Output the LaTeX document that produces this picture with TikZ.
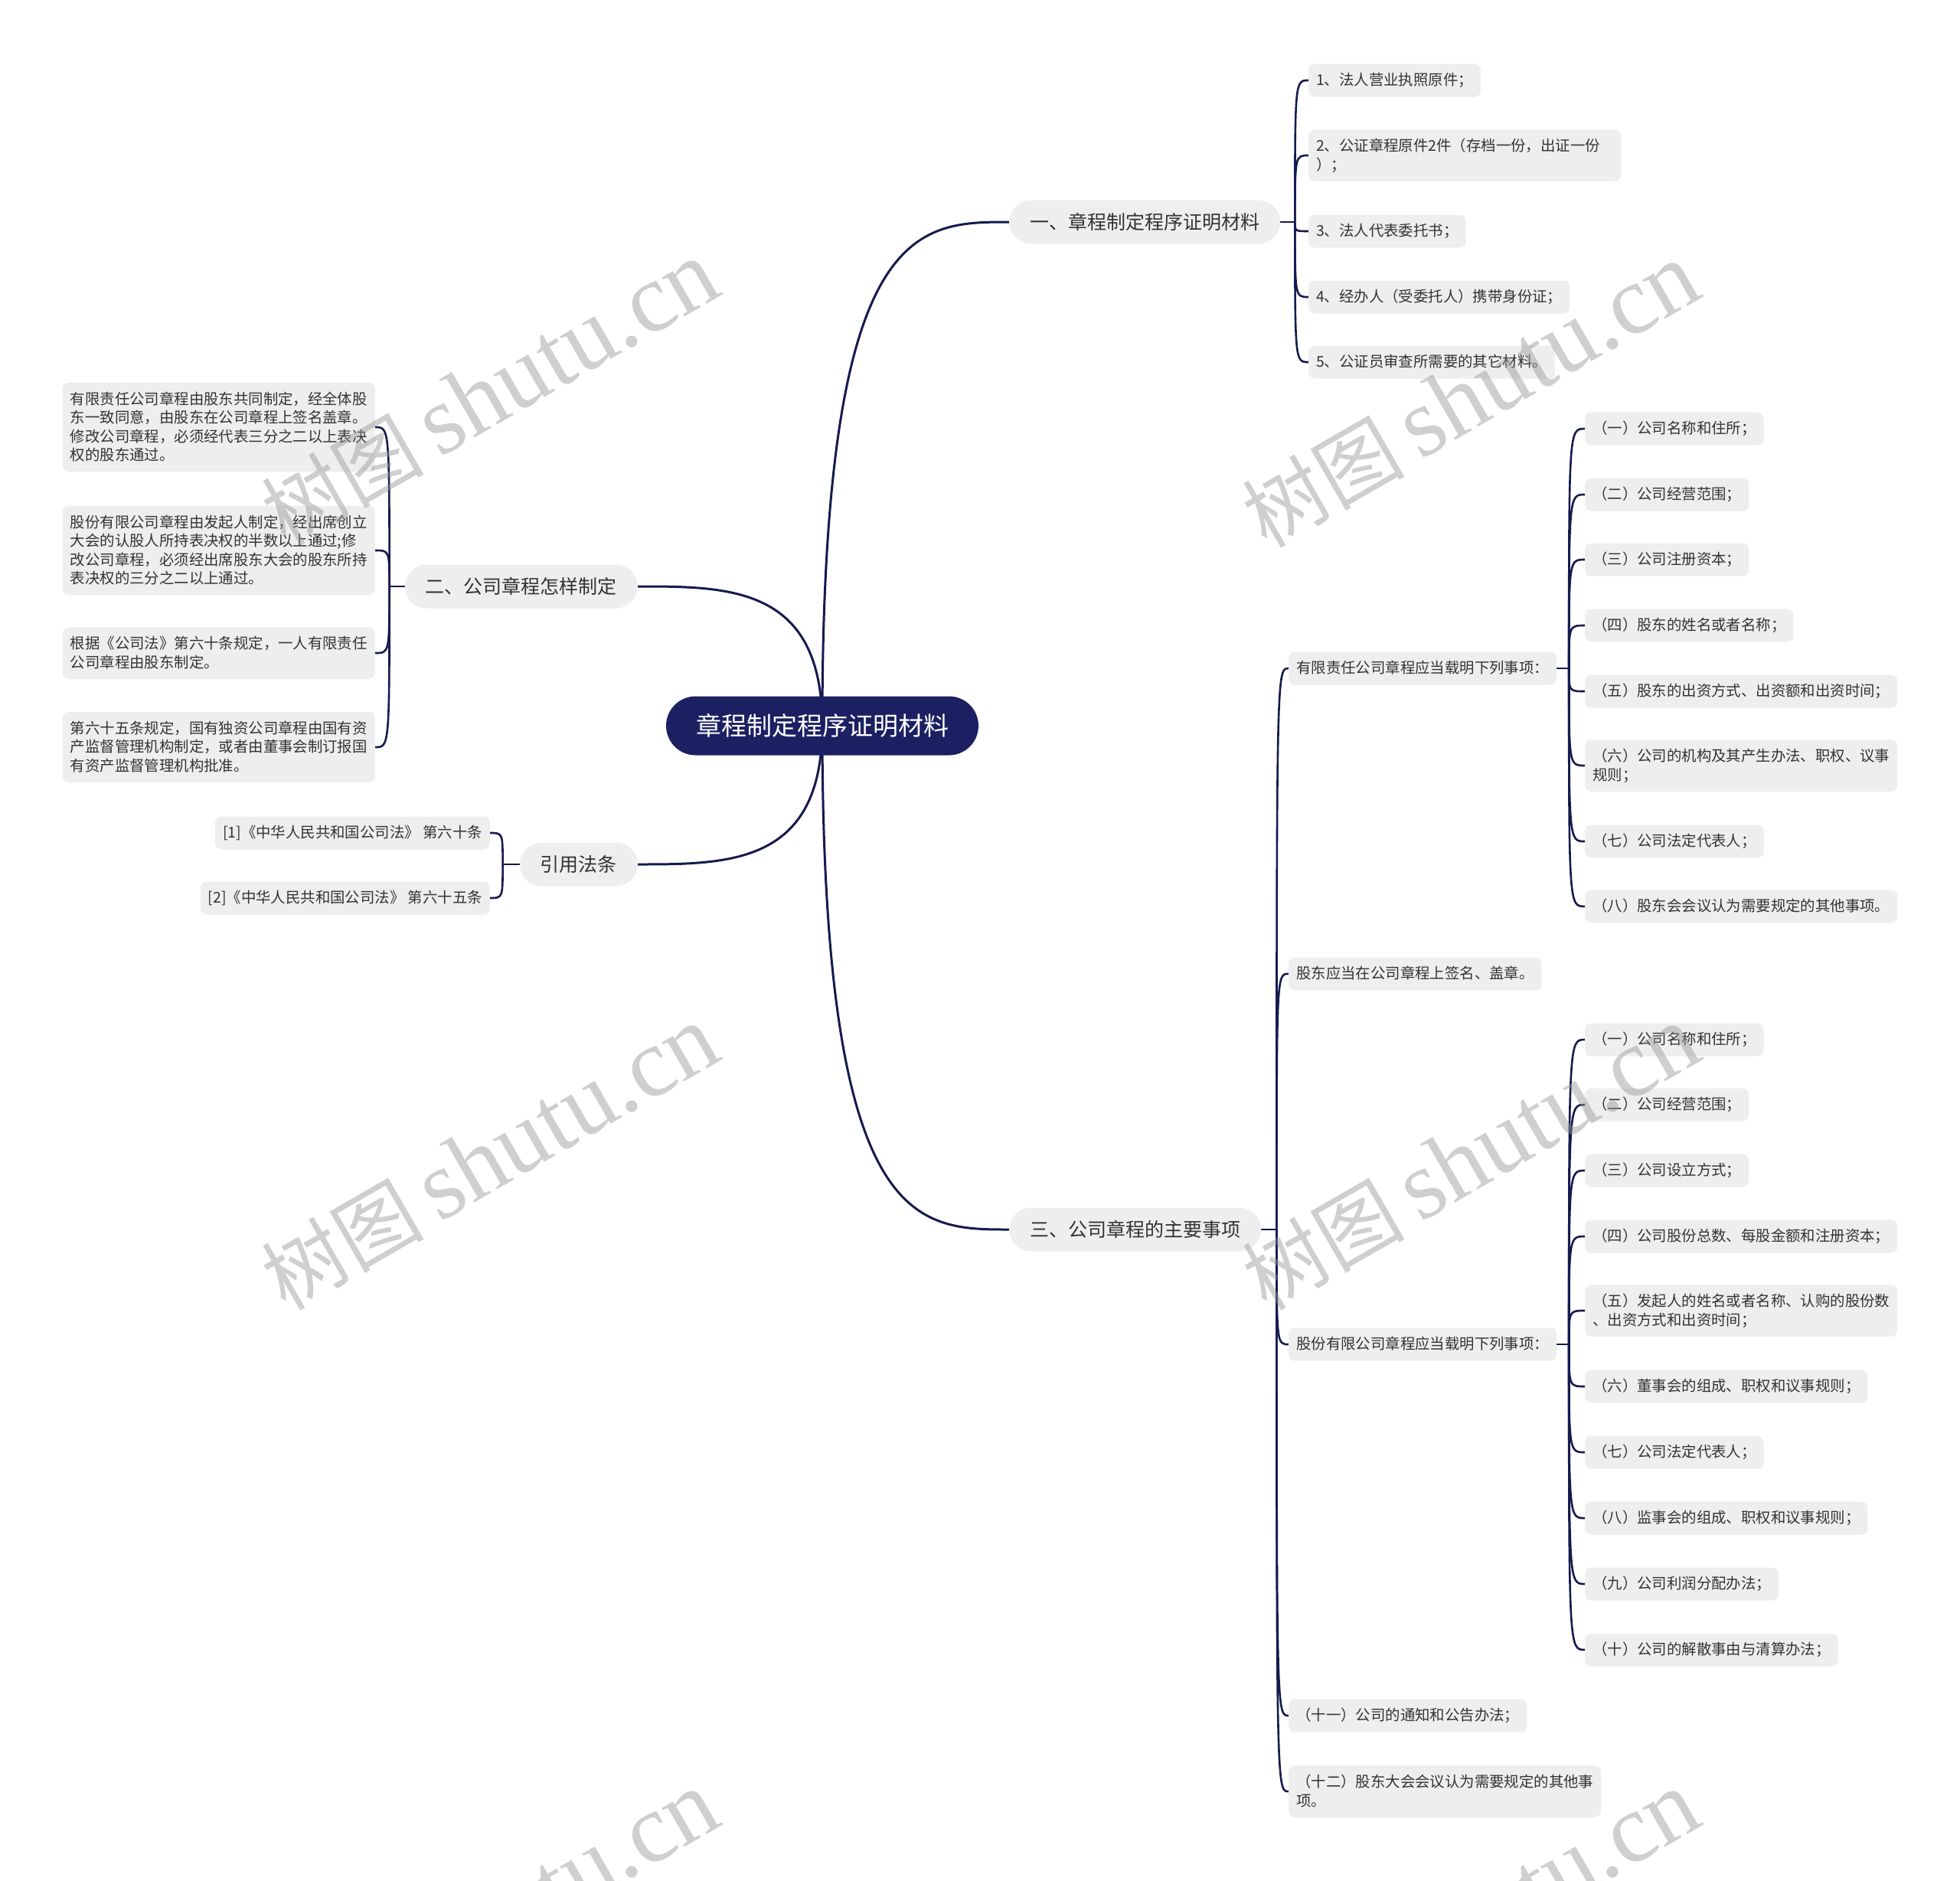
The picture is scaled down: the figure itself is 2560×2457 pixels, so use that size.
\documentclass[tikz,border=0pt]{standalone}
\usepackage{fontspec}
\setmainfont{Noto Sans CJK SC}
\newfontfamily\wmserif{Liberation Serif}
\usetikzlibrary{calc,backgrounds}
\definecolor{navy}{RGB}{28,32,98}
\definecolor{linec}{RGB}{22,26,78}
\definecolor{boxg}{RGB}{238,238,238}
\definecolor{txt}{RGB}{51,51,51}
\definecolor{wmc}{RGB}{150,150,150}
\newcommand\lst{\rule[-5.5pt]{0pt}{24.5pt}}
\newcommand\wmtext{{\fontsize{106}{106}\selectfont 树图}\hspace{20pt}{\wmserif\fontsize{128}{128}\selectfont shutu.cn}}
\begin{document}
\begin{tikzpicture}[x=1pt,y=-1pt,
  leaf/.style={fill=boxg, rounded corners=8pt, inner xsep=10pt, inner ysep=9.25pt,
    text=txt, font=\fontsize{19.4}{24.5}\selectfont, align=left, execute at begin node=\lst},
  wrapleaf/.style={leaf, text width=388pt},
  branch/.style={fill=boxg, rounded corners=28.5pt, minimum height=57pt, inner xsep=27pt,
    inner ysep=0pt, text=txt, font=\fontsize{25}{30}\selectfont, text height=21.5pt, text depth=2.5pt},
  rootbox/.style={fill=navy, rounded corners=38.5pt, minimum height=77pt, inner xsep=39pt,
    inner ysep=0pt, text=white, font=\fontsize{33}{40}\selectfont, text height=28.4pt, text depth=3.3pt},
  conn/.style={draw=linec, line width=3pt},
  sub/.style={draw=linec, line width=2.6pt},
  wm/.style={rotate=30, text=wmc, text opacity=0.45}
]
\useasboundingbox (0,0) rectangle (2560,2457);

% root and branches
\node[rootbox] (root) at (1074,948) {章程制定程序证明材料};
\node[branch, anchor=west] (b1) at (1318,290) {一、章程制定程序证明材料};
\node[branch, anchor=east] (b2) at (833,766) {二、公司章程怎样制定};
\node[branch, anchor=east] (b3) at (833,1129) {引用法条};
\node[branch, anchor=west] (b4) at (1318,1606) {三、公司章程的主要事项};

% branch 1 leaves
\node[leaf, anchor=west] (a1) at (1709,105) {1、法人营业执照原件；};
\node[wrapleaf, anchor=west] (a2) at (1709,203) {2、公证章程原件2件（存档一份，出证一份\\\lst）；};
\node[leaf, anchor=west] (a3) at (1709,302) {3、法人代表委托书；};
\node[leaf, anchor=west] (a4) at (1709,388) {4、经办人（受委托人）携带身份证；};
\node[leaf, anchor=west] (a5) at (1709,473) {5、公证员审查所需要的其它材料。};

% branch 2 leaves
\node[wrapleaf, anchor=east] (d1) at (490,558) {有限责任公司章程由股东共同制定，经全体股\\\lst 东一致同意，由股东在公司章程上签名盖章。\\\lst 修改公司章程，必须经代表三分之二以上表决\\\lst 权的股东通过。};
\node[wrapleaf, anchor=east] (d2) at (490,719) {股份有限公司章程由发起人制定，经出席创立\\\lst 大会的认股人所持表决权的半数以上通过;修\\\lst 改公司章程，必须经出席股东大会的股东所持\\\lst 表决权的三分之二以上通过。};
\node[wrapleaf, anchor=east] (d3) at (490,853) {根据《公司法》第六十条规定，一人有限责任\\\lst 公司章程由股东制定。};
\node[wrapleaf, anchor=east] (d4) at (490,976) {第六十五条规定，国有独资公司章程由国有资\\\lst 产监督管理机构制定，或者由董事会制订报国\\\lst 有资产监督管理机构批准。};

% branch 3 leaves
\node[leaf, anchor=east] (e1) at (640,1088) {[1]《中华人民共和国公司法》 第六十条};
\node[leaf, anchor=east] (e2) at (640,1173) {[2]《中华人民共和国公司法》 第六十五条};

% branch 4 children
\node[leaf, anchor=west] (c1) at (1683,873) {有限责任公司章程应当载明下列事项：};
\node[leaf, anchor=west] (c2) at (1683,1272) {股东应当在公司章程上签名、盖章。};
\node[leaf, anchor=west] (c3) at (1683,1756) {股份有限公司章程应当载明下列事项：};
\node[leaf, anchor=west] (c4) at (1683,2241) {（十一）公司的通知和公告办法；};
\node[wrapleaf, anchor=west] (c5) at (1683,2340) {（十二）股东大会会议认为需要规定的其他事\\\lst 项。};

% c1 leaves
\node[leaf, anchor=west] (f1) at (2070,560) {（一）公司名称和住所；};
\node[leaf, anchor=west] (f2) at (2070,646) {（二）公司经营范围；};
\node[leaf, anchor=west] (f3) at (2070,731) {（三）公司注册资本；};
\node[leaf, anchor=west] (f4) at (2070,817) {（四）股东的姓名或者名称；};
\node[leaf, anchor=west] (f5) at (2070,903) {（五）股东的出资方式、出资额和出资时间；};
\node[wrapleaf, anchor=west] (f6) at (2070,1000) {（六）公司的机构及其产生办法、职权、议事\\\lst 规则；};
\node[leaf, anchor=west] (f7) at (2070,1099) {（七）公司法定代表人；};
\node[leaf, anchor=west] (f8) at (2070,1184) {（八）股东会会议认为需要规定的其他事项。};

% c3 leaves
\node[leaf, anchor=west] (g1) at (2070,1358) {（一）公司名称和住所；};
\node[leaf, anchor=west] (g2) at (2070,1443) {（二）公司经营范围；};
\node[leaf, anchor=west] (g3) at (2070,1529) {（三）公司设立方式；};
\node[leaf, anchor=west] (g4) at (2070,1615) {（四）公司股份总数、每股金额和注册资本；};
\node[wrapleaf, anchor=west] (g5) at (2070,1712) {（五）发起人的姓名或者名称、认购的股份数\\\lst 、出资方式和出资时间；};
\node[leaf, anchor=west] (g6) at (2070,1811) {（六）董事会的组成、职权和议事规则；};
\node[leaf, anchor=west] (g7) at (2070,1897) {（七）公司法定代表人；};
\node[leaf, anchor=west] (g8) at (2070,1983) {（八）监事会的组成、职权和议事规则；};
\node[leaf, anchor=west] (g9) at (2070,2069) {（九）公司利润分配办法；};
\node[leaf, anchor=west] (g10) at (2070,2155) {（十）公司的解散事由与清算办法；};

\begin{scope}[on background layer]
  \fill[white] (0,0) rectangle (2560,2457);
  % root to branches
  \foreach \b/\e in {b1/west,b4/west,b2/east,b3/east}{
    \draw[conn] (root.center) .. controls (root.center |- \b.\e) and ($(root.center |- \b.\e)!0.5!(\b.\e)$) .. (\b.\e);
  }
  % branch 1
  \draw[sub] (b1.east) -- ++(19,0) coordinate (j1);
  \foreach \c in {a1,a2,a3,a4,a5}{\draw[sub] (j1) .. controls (j1 |- \c.west) .. (\c.west);}
  % branch 2
  \draw[sub] (b2.west) -- ++(-20,0) coordinate (j2);
  \foreach \c in {d1,d2,d3,d4}{\draw[sub] (j2) .. controls (j2 |- \c.east) .. (\c.east);}
  % branch 3
  \draw[sub] (b3.west) -- ++(-22,0) coordinate (j3);
  \foreach \c in {e1,e2}{\draw[sub] (j3) .. controls (j3 |- \c.east) .. (\c.east);}
  % branch 4
  \draw[sub] (b4.east) -- ++(20,0) coordinate (j4);
  \foreach \c in {c1,c2,c3,c4,c5}{\draw[sub] (j4) .. controls (j4 |- \c.west) .. (\c.west);}
  % c1
  \draw[sub] (c1.east) -- ++(16,0) coordinate (j5);
  \foreach \c in {f1,f2,f3,f4,f5,f6,f7,f8}{\draw[sub] (j5) .. controls (j5 |- \c.west) .. (\c.west);}
  % c3
  \draw[sub] (c3.east) -- ++(16,0) coordinate (j6);
  \foreach \c in {g1,g2,g3,g4,g5,g6,g7,g8,g9,g10}{\draw[sub] (j6) .. controls (j6 |- \c.west) .. (\c.west);}
\end{scope}

% watermarks
\node[wm] (w1) at (640,514) {\wmtext};
\node[wm] (w2) at (1921,517) {\wmtext};
\node[wm] (w3) at (640,1513) {\wmtext};
\node[wm] (w4) at (1921,1513) {\wmtext};
\node[wm] (w5) at (640,2513) {\wmtext};
\node[wm] (w6) at (1921,2513) {\wmtext};
\end{tikzpicture}
\end{document}
